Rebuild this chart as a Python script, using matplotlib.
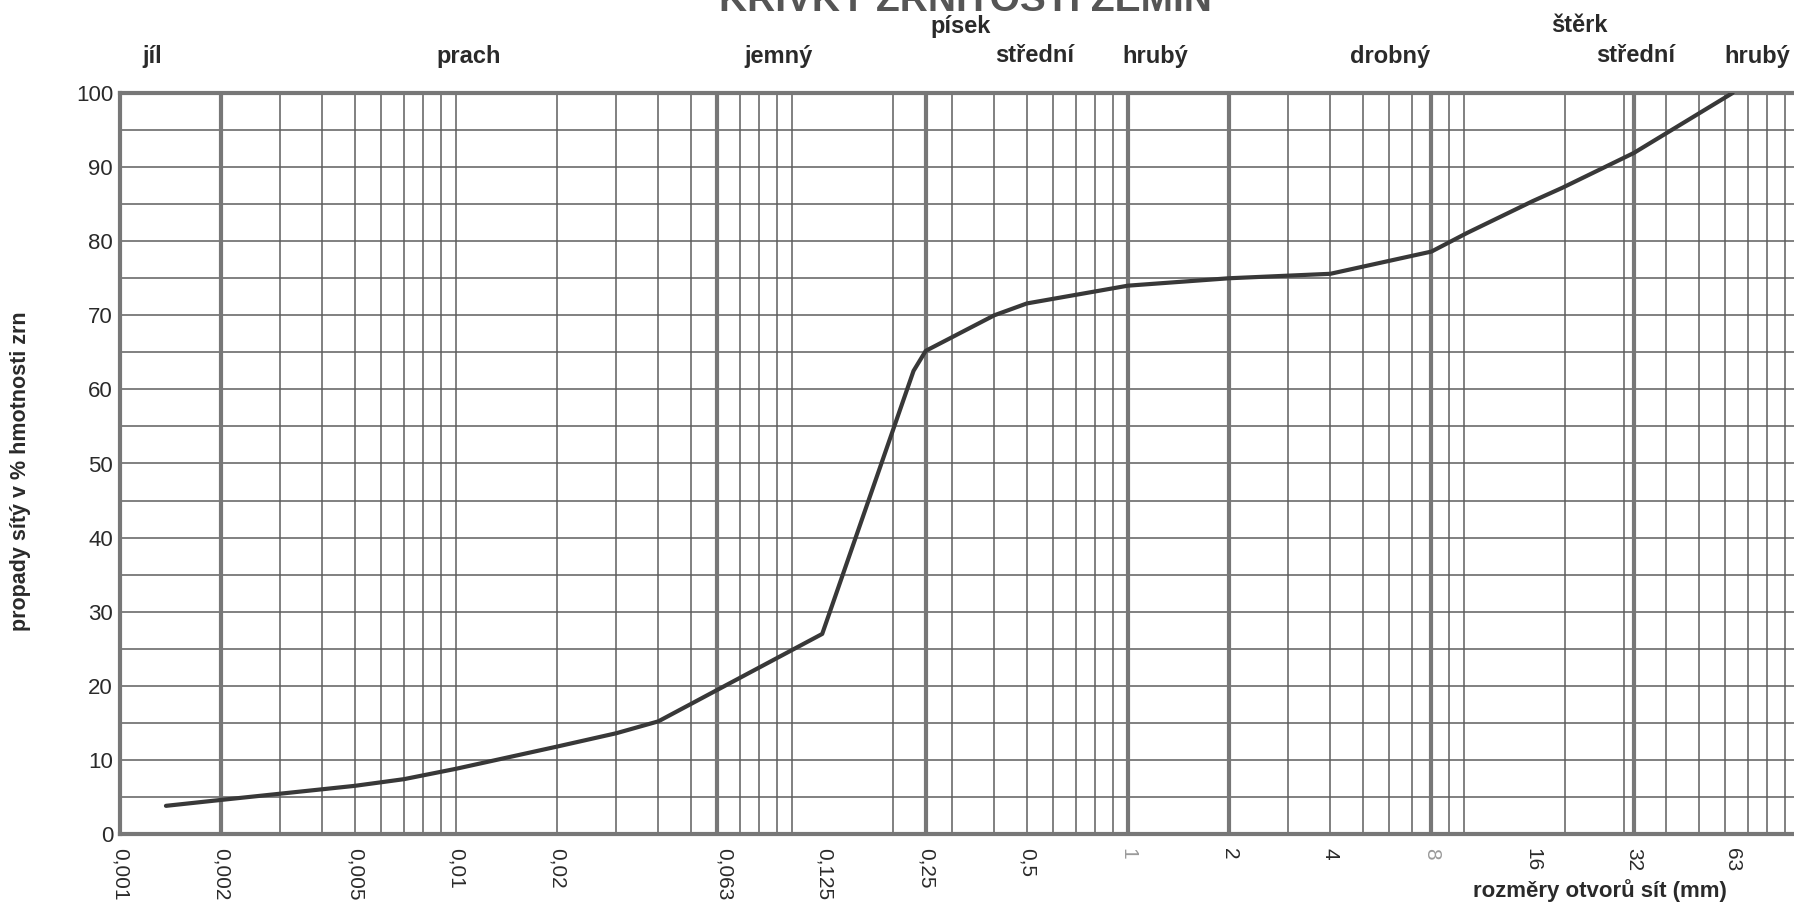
import matplotlib.pyplot as plt

# ── data ─────────────────────────────────────────────
# grain size (mm) vs. passing (%)
grain_mm = [0.00137, 0.002, 0.005, 0.007, 0.01, 0.02, 0.03, 0.04,
            0.123, 0.23, 0.25, 0.4, 0.5, 1, 2, 4, 8, 10.2, 16, 19.6, 32, 63]
passing = [3.8, 4.6, 6.5, 7.4, 8.8, 11.8, 13.6, 15.2,
           27.0, 62.5, 65.2, 70.0, 71.6, 74.0, 75.0, 75.6, 78.6, 81.1, 85.4, 87.2, 91.9, 100]

tick_vals = [0.001, 0.002, 0.005, 0.01, 0.02, 0.063, 0.125, 0.25, 0.5,
             1, 2, 4, 8, 16, 32, 63]
tick_text = ["0,001", "0,002", "0,005", "0,01", "0,02", "0,063", "0,125", "0,25", "0,5",
             "1", "2", "4", "8", "16", "32", "63"]

# fraction boundaries (heavy lines) and the ordinary log paper lines
heavy_lines = [0.002, 0.06, 0.25, 1, 2, 8, 32]
minor_lines = [0.003, 0.004, 0.005, 0.006, 0.007, 0.008, 0.009, 0.01,
               0.02, 0.03, 0.04, 0.05, 0.07, 0.08, 0.09, 0.1,
               0.2, 0.3, 0.4, 0.5, 0.6, 0.7, 0.8, 0.9,
               3, 4, 5, 6, 7, 9, 10, 20, 30, 40, 50, 60, 70, 80, 90]

# fraction names: (text, x px, y px from top)
fractions = [("jíl", 152, 56), ("prach", 469, 56), ("jemný", 778, 56),
             ("písek", 961, 26), ("střední", 1035, 56), ("hrubý", 1155, 56),
             ("drobný", 1390, 56), ("štěrk", 1579, 26), ("střední", 1636, 56),
             ("hrubý", 1757, 56)]

W, H = 1794, 905
plt.rcParams["font.family"] = ["Liberation Sans", "DejaVu Sans"]

fig = plt.figure(figsize=(W / 100, H / 100), dpi=100)
fig.patch.set_facecolor("white")
ax = fig.add_axes([120 / W, (H - 834) / H, 1680 / W, (834 - 93) / H])

ax.set_xscale("log")
ax.set_xlim(0.001, 100)
ax.set_ylim(0, 100)

GRID = "#5e5e5e"
HEAVY = "#777777"

for y in range(5, 100, 5):
    ax.axhline(y, color=GRID, lw=1.1, zorder=1)
for x in minor_lines:
    ax.axvline(x, color=GRID, lw=1.1, zorder=1)
for x in heavy_lines:
    ax.axvline(x, color=HEAVY, lw=3.0, zorder=2)

for s in ["top", "left", "bottom"]:
    ax.spines[s].set_color(HEAVY)
    ax.spines[s].set_linewidth(3.0)
ax.spines["right"].set_visible(False)

ax.plot(grain_mm, passing, color="#383838", lw=3.0, zorder=4,
        solid_capstyle="round", solid_joinstyle="round")

ax.set_yticks(range(0, 101, 10))
ax.set_yticklabels([str(v) for v in range(0, 101, 10)], fontsize=16, color="#2a2a2a")
ax.tick_params(axis="y", length=0, pad=5)

ax.set_xticks(tick_vals)
ax.set_xticklabels(tick_text, rotation=-90, fontsize=15, color="#2a2a2a",
                   va="top", ha="center")
ax.xaxis.set_minor_locator(plt.NullLocator())
ax.tick_params(axis="x", length=0, pad=10)
for lbl in ax.get_xticklabels():
    if lbl.get_text() in ("1", "8"):
        lbl.set_color("#9a9a9a")

# titles and labels
fig.text(965 / W, 1 - 11 / H, "KŘIVKY ZRNITOSTI ZEMIN", ha="center", va="baseline",
         fontsize=28, fontweight="bold", color="#555555")

for name, px, py in fractions:
    fig.text(px / W, 1 - py / H, name, ha="center", va="center",
             fontsize=17, fontweight="bold", color="#2a2a2a")

fig.text(21 / W, 1 - 471 / H, "propady sítý v % hmotnosti zrn", rotation=90,
         ha="center", va="center", fontsize=15.5, fontweight="bold", color="#2a2a2a")
fig.text(1600 / W, 1 - 891 / H, "rozměry otvorů sít (mm)", ha="center", va="center",
         fontsize=16, fontweight="bold", color="#2a2a2a")

fig.savefig("out.png", dpi=100, facecolor="white")
